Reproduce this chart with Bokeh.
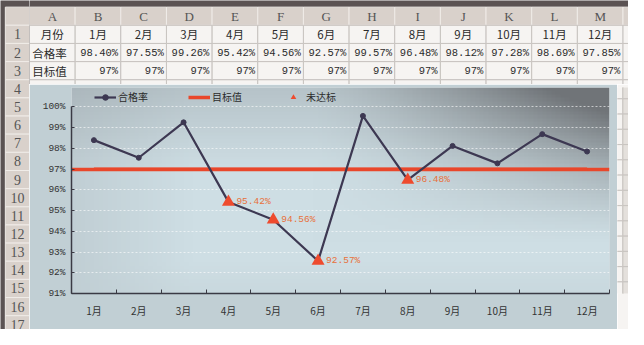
import numpy as np
from bokeh.plotting import figure
from bokeh.models import Range1d, FixedTicker, NumeralTickFormatter, Legend, LegendItem
from bokeh.layouts import row, column
from bokeh.embed import file_html
from bokeh.resources import INLINE
from bokeh.core.properties import value

# ---------------- data ----------------
months = ["1月", "2月", "3月", "4月", "5月", "6月", "7月", "8月", "9月", "10月", "11月", "12月"]
rate = [0.9840, 0.9755, 0.9926, 0.9542, 0.9456, 0.9257, 0.9957, 0.9648, 0.9812, 0.9728, 0.9869, 0.9785]
target = [0.97, 0.97, 0.97, 0.97, 0.97, 0.97, 0.97, 0.97, 0.97, 0.97, 0.97, 0.97]
col_letters = ["A", "B", "C", "D", "E", "F", "G", "H", "I", "J", "K", "L", "M", "N"]
row_titles = ["月份", "合格率", "目标值", "未达标"]
row_numbers = list(range(1, 18))
y_ticks = [0.91, 0.92, 0.93, 0.94, 0.95, 0.96, 0.97, 0.98, 0.99, 1.00]

# ---------------- styles / layout constants ----------------
BAND = "#5b5353"
HEAD = "#d9d1cb"
HEAD_LINE = "#f0ece8"
CELL = "#f6f4f2"
CELL_LINE = "#c8c4c0"
TXT = "#2b2b2b"
CHART_BG = "#c1cfd4"
RATE_C = "#3d3852"
TGT_C = "#e9472b"
FAIL_C = "#ee4b2e"
LBL_C = "#e8703a"
CJK = "Noto Sans CJK SC"

ROWNUM_X = -0.767
ROWNUM_W = 0.534
CH_W, CH_H = 588, 245
CH_L, CH_R, CH_T, CH_B = 42, 8, 3, 36
Y_HEAD = 0.0094          # headroom above 100% inside the frame (for the legend)


def sheet_fig(w, h, xr, yr, bg=BAND):
    f = figure(width=w, height=h, x_range=xr, y_range=yr, output_backend="svg",
               toolbar_location=None, min_border=0, x_axis_type=None, y_axis_type=None)
    f.grid.visible = False
    f.outline_line_color = None
    f.background_fill_color = bg
    f.border_fill_color = bg
    return f


# ---------------- row-number column ----------------
rn = sheet_fig(29, 329, Range1d(-1.141, -0.5), Range1d(17.26, -0.865))
rn_rows = [0] + row_numbers
rn.rect(x=[ROWNUM_X] * len(rn_rows), y=rn_rows, width=ROWNUM_W, height=1,
        fill_color=HEAD, line_color=HEAD_LINE, line_width=1)
rn.text(x=[ROWNUM_X] * len(row_numbers), y=row_numbers, text=[str(r) for r in row_numbers],
        text_align="center", text_baseline="middle", text_font=value("Liberation Serif"),
        text_font_size="14px", text_color="#555555")

# ---------------- table (rows header..4) ----------------
tb = sheet_fig(599, 84, Range1d(-0.5, 12.62), Range1d(3.759, -0.865))
ncol = len(col_letters)
tb.rect(x=list(range(ncol)), y=[0] * ncol, width=1, height=1,
        fill_color=HEAD, line_color=HEAD_LINE, line_width=1)
tb.text(x=list(range(ncol)), y=[0] * ncol, text=col_letters, text_align="center",
        text_baseline="middle", text_font=value("Liberation Serif"), text_font_size="13px",
        text_color="#555555")
for r in range(1, 5):
    tb.rect(x=list(range(ncol)), y=[r] * ncol, width=1, height=1,
            fill_color=CELL, line_color=CELL_LINE, line_width=1)
tb.text(x=[0], y=[1], text=[row_titles[0]], text_align="center", text_baseline="middle",
        text_font=value(CJK), text_font_size="11.5px", text_color=TXT)
tb.text(x=[-0.44] * 3, y=[2, 3, 4], text=row_titles[1:], text_align="left", text_baseline="middle",
        text_font=value(CJK), text_font_size="11.5px", text_color=TXT)
xs = list(range(1, len(months) + 1))
tb.text(x=xs, y=[1] * len(xs), text=months, text_align="center", text_baseline="middle",
        text_font=value(CJK), text_font_size="11.5px", text_color=TXT)
tb.text(x=[x + 0.44 for x in xs], y=[2] * len(xs), text=[f"{v * 100:.2f}%" for v in rate],
        text_align="right", text_baseline="middle", text_font=value("Liberation Mono"),
        text_font_size="10.5px", text_color=TXT)
tb.text(x=[x + 0.44 for x in xs], y=[3] * len(xs), text=[f"{v * 100:.0f}%" for v in target],
        text_align="right", text_baseline="middle", text_font=value("Liberation Mono"),
        text_font_size="10.5px", text_color=TXT)

# ---------------- right strip ----------------
rs_fig = sheet_fig(11, CH_H, Range1d(12.385, 12.62), Range1d(17.26, 3.759), bg=CELL)
rows_r = list(range(4, 18))
for c in (12, 13):
    rs_fig.rect(x=[c] * len(rows_r), y=rows_r, width=1, height=1,
                fill_color=CELL if c == 12 else "#e4e0dc", line_color=CELL_LINE, line_width=1)

# ---------------- chart ----------------
y_lo, y_hi = y_ticks[0], y_ticks[-1] + Y_HEAD
x_lo, x_hi = 0.5, len(months) + 0.5
p = figure(width=CH_W, height=CH_H, x_range=Range1d(x_lo, x_hi),
           y_range=Range1d(y_lo, y_hi), output_backend="svg", toolbar_location=None,
           min_border_left=CH_L, min_border_right=CH_R, min_border_top=CH_T, min_border_bottom=CH_B)
p.background_fill_color = CHART_BG
p.border_fill_color = CHART_BG
p.outline_line_color = None

# decorative background shading of the chart area (light centre, grey left / top-right)
gh, gw = 60, 120
u = np.linspace(0, 1, gw)[None, :]
v = np.linspace(0, 1, gh)[:, None]          # 0 = bottom, 1 = top
light = np.array([206, 222, 228], dtype=float)
grey = np.array([168, 178, 183], dtype=float)
dark = np.array([112, 116, 120], dtype=float)
w_left = np.clip(1 - u / 0.22, 0, 1) * 0.35 * np.ones_like(v)
w_tr = np.clip((u - 0.45) / 0.55, 0, 1) ** 1.3 * np.clip((v - 0.25) / 0.75, 0, 1) ** 1.2
w_top = np.clip((v - 0.6) / 0.4, 0, 1) * 0.25 * np.ones_like(u)
w_bot = np.clip(1 - v / 0.15, 0, 1) * 0.35 * np.ones_like(u)
col = light[None, None, :] * np.ones((gh, gw, 1))
col = col * (1 - w_left[..., None]) + grey * w_left[..., None]
bg_rgb = np.array([193, 207, 212], dtype=float)
col = col * (1 - w_bot[..., None]) + bg_rgb * w_bot[..., None]
wt = np.clip(w_tr + w_top, 0, 1)[..., None]
col = col * (1 - wt) + dark * wt
img = np.zeros((gh, gw), dtype=np.uint32)
view = img.view(dtype=np.uint8).reshape((gh, gw, 4))
view[..., 0:3] = col.astype(np.uint8)
view[..., 3] = 255
p.image_rgba(image=[img], x=x_lo, y=y_lo, dw=x_hi - x_lo, dh=y_hi - y_lo, level="image")

p.xgrid.visible = False
p.ygrid.grid_line_color = "white"
p.ygrid.grid_line_alpha = 0.6
p.ygrid.grid_line_dash = "2 2"

p.xaxis.ticker = FixedTicker(ticks=xs, minor_ticks=[x - 0.5 for x in xs] + [xs[-1] + 0.5])
p.xaxis.major_label_overrides = {x: m for x, m in zip(xs, months)}
p.xaxis.major_tick_in = 0
p.xaxis.major_tick_out = 0
p.xaxis.minor_tick_in = 4
p.xaxis.minor_tick_out = 0
p.xaxis.minor_tick_line_color = "#3a3a44"
p.xaxis.major_label_standoff = 9
p.xaxis.major_label_text_font = CJK
p.xaxis.major_label_text_font_size = "10px"
p.xaxis.major_label_text_color = "#333333"

p.yaxis.ticker = FixedTicker(ticks=y_ticks)
p.yaxis.formatter = NumeralTickFormatter(format="0%")
p.yaxis.bounds = (y_ticks[0], y_ticks[-1])
p.yaxis.major_tick_in = 3
p.yaxis.major_tick_out = 0
p.yaxis.minor_tick_line_color = None
p.yaxis.major_label_standoff = 6
p.yaxis.major_label_text_font = "Liberation Mono"
p.yaxis.major_label_text_font_size = "9.5px"
p.yaxis.major_label_text_color = "#333333"

for ax in (p.xaxis, p.yaxis):
    ax.axis_line_color = "#3a3a44"
    ax.axis_line_width = 1.5
    ax.major_tick_line_color = "#3a3a44"

p.hspan(y=sorted(set(target)), line_color=TGT_C, line_width=3.5)
tl = p.line(xs, target, line_color=TGT_C, line_width=3.5)
rl = p.line(xs, rate, line_color=RATE_C, line_width=2.2)
rsc = p.scatter(xs, rate, marker="circle", size=5, color=RATE_C)

fx = [x for x, r, t in zip(xs, rate, target) if r < t]
fy = [r for r, t in zip(rate, target) if r < t]
ft = p.scatter(fx, fy, marker="triangle", size=13, fill_color=FAIL_C, line_color=None)
p.text(fx, fy, text=[f"{v * 100:.2f}%" for v in fy], x_offset=8, text_baseline="middle",
       text_font=value("Liberation Mono"), text_font_size="9.5px", text_color=LBL_C)

frame_h = CH_H - CH_T - CH_B
legend = Legend(items=[LegendItem(label="合格率", renderers=[rl, rsc]),
                       LegendItem(label="目标值", renderers=[tl]),
                       LegendItem(label="未达标", renderers=[ft])],
                orientation="horizontal", location=(23, frame_h - 17), spacing=40, padding=0, margin=0,
                glyph_width=22, glyph_height=14, label_height=14, label_standoff=2,
                background_fill_alpha=0, border_line_color=None,
                label_text_font=CJK, label_text_font_size="10px", label_text_color=TXT)
p.add_layout(legend, "center")

layout = row(rn, column(tb, row(p, rs_fig)))
open("out.html", "w").write(file_html(layout, INLINE))
